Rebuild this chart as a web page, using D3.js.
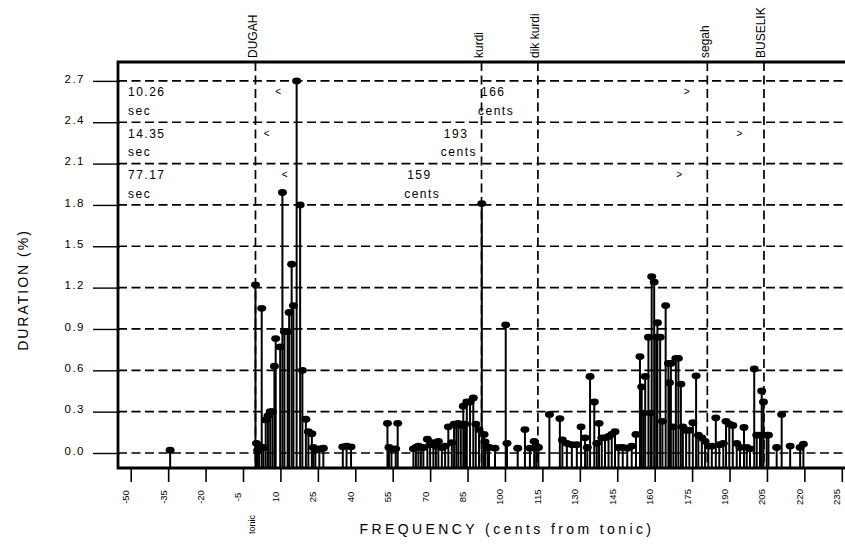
<!DOCTYPE html>
<html><head><meta charset="utf-8">
<script src="https://cdn.jsdelivr.net/npm/d3@7/dist/d3.min.js"></script>
<style>
html,body{margin:0;padding:0;background:#fff;}
svg{display:block;}
text{font-family:"Liberation Sans",Arial,sans-serif;fill:#000;}
</style></head>
<body>
<svg id="chart" width="845" height="545"></svg>
<script>
// ---- data ----
const cents = [-34.2,0.0,0.4,0.9,1.5,2.5,3.2,4.1,5.0,5.9,6.8,7.6,8.1,9.9,10.8,11.6,12.9,13.5,14.5,15.2,16.5,17.9,18.8,20.2,21.2,22.6,23.2,24.0,25.6,27.2,
  35.0,36.5,38.3,52.9,53.5,54.5,56.2,57.0,63.3,64.3,65.3,66.3,67.3,68.9,70.0,71.3,72.3,73.3,74.7,76.0,77.3,78.7,79.6,80.5,81.3,82.3,83.3,84.0,84.7,86.0,87.3,88.3,89.6,90.7,91.6,92.0,93.0,93.6,96.0,
  100.3,100.8,105.1,108.0,110.0,111.7,112.5,113.4,117.8,122.0,123.0,124.8,126.8,128.8,130.5,132.1,133.0,134.1,135.8,136.8,137.7,138.8,140.1,141.5,142.8,144.1,145.5,147.2,149.0,150.8,152.5,
  154.1,154.8,155.5,156.2,157.5,158.4,158.8,159.8,160.6,161.1,162.2,163.1,164.4,165.5,165.9,166.5,167.5,168.5,169.5,170.5,171.3,172.6,173.9,175.3,176.6,177.5,178.9,180.2,181.5,182.9,184.5,185.9,187.5,188.6,189.9,191.3,192.9,194.2,195.8,196.9,198.2,199.9,200.9,202.2,202.9,203.6,204.9,205.6,208.9,210.9,214.3,218.3,219.6];
const duration = [0.02,1.22,0.07,0.02,0.05,1.05,0.04,0.24,0.27,0.30,0.30,0.63,0.83,0.77,1.89,0.88,0.88,1.02,1.37,1.07,2.70,1.80,0.60,0.245,0.155,0.14,0.04,0.02,0.03,0.035,
  0.045,0.05,0.045,0.215,0.04,0.03,0.03,0.215,0.03,0.04,0.05,0.04,0.04,0.10,0.06,0.075,0.05,0.085,0.04,0.05,0.19,0.075,0.21,0.20,0.215,0.20,0.34,0.21,0.37,0.37,0.40,0.21,0.17,1.81,0.135,0.08,0.04,0.04,0.035,
  0.93,0.07,0.035,0.17,0.035,0.085,0.05,0.04,0.28,0.25,0.095,0.07,0.06,0.06,0.19,0.11,0.04,0.555,0.37,0.07,0.215,0.11,0.11,0.12,0.135,0.155,0.04,0.04,0.035,0.05,0.135,
  0.70,0.48,0.29,0.555,0.84,0.29,1.28,1.24,0.84,0.945,0.84,0.23,1.07,0.65,0.51,0.65,0.19,0.687,0.687,0.50,0.19,0.165,0.165,0.22,0.56,0.13,0.11,0.085,0.05,0.05,0.255,0.06,0.07,0.23,0.21,0.20,0.07,0.04,0.185,0.04,0.03,0.61,0.13,0.13,0.45,0.37,0.13,0.13,0.04,0.28,0.05,0.04,0.065];

const noteNames = ["DUGAH","kurdi","dik kurdi","segah","BUSELIK"];
const noteCents = [0, 90.6, 113.2, 181.1, 203.8];

const yTicks = [0.0,0.3,0.6,0.9,1.2,1.5,1.8,2.1,2.4,2.7];
const xTicks = [-50,-35,-20,-5,10,25,40,55,70,85,100,115,130,145,160,175,190,205,220,235];

// annotation rows (one per grid band below 2.7, 2.4, 2.1)
const annRowValue = [2.7, 2.4, 2.1];
const annSeconds = ["10.26","14.35","77.17"];
const annInterval = ["166","193","159"];
const annLeftCents = [9.1, 4.5, 11.7];
const annRightCents = [172.8, 194.0, 169.8];
const annLabelCents = [89.2, 74.3, 59.6];

const xLabel = "FREQUENCY (cents from tonic)";
const yLabel = "DURATION (%)";
const tonicLabel = "tonic";

// ---- layout ----
const L = 118, T = 62, B = 468, R = 854;
const svg = d3.select("#chart");
const x = d3.scaleLinear().domain([-55.1, 240]).range([L, L + 295.1*2.495]);
const y = d3.scaleLinear().domain([-0.1088, 2.837]).range([B, T]);

// horizontal dashed grid
svg.append("g").selectAll("line").data(yTicks).join("line")
  .attr("x1", L).attr("x2", R).attr("y1", d=>y(d)).attr("y2", d=>y(d))
  .attr("stroke","#000").attr("stroke-width",1.7).attr("stroke-dasharray","9,4.5");

// vertical dashed note lines
svg.append("g").selectAll("line").data(noteCents).join("line")
  .attr("x1", d=>x(d)).attr("x2", d=>x(d)).attr("y1", T).attr("y2", B)
  .attr("stroke","#000").attr("stroke-width",1.7).attr("stroke-dasharray","9,4.5");

// note labels
svg.append("g").selectAll("text").data(noteNames).join("text")
  .attr("transform",(d,i)=>`translate(${x(noteCents[i])+1.5},58) rotate(-90)`)
  .attr("text-anchor","start").style("font-size","12px").text(d=>d);

// stems
const pts = cents.map((c,i)=>({c, v: duration[i]}));
svg.append("g").selectAll("line").data(pts).join("line")
  .attr("x1", d=>x(d.c)).attr("x2", d=>x(d.c)).attr("y1", d=>y(d.v)).attr("y2", B)
  .attr("stroke","#000").attr("stroke-width",2);
svg.append("g").selectAll("ellipse").data(pts).join("ellipse")
  .attr("cx", d=>x(d.c)).attr("cy", d=>y(d.v)).attr("rx",4.5).attr("ry",3.4).attr("fill","#000");

// annotations
const ann = svg.append("g").style("font-size","12px").style("letter-spacing","1.5px");
annRowValue.forEach((rv,i)=>{
  const gy = y(rv);
  ann.append("text").attr("x",128).attr("y",gy+15.5).text(annSeconds[i]);
  ann.append("text").attr("x",128).attr("y",gy+34).text("sec");
  ann.append("text").attr("x",x(annLeftCents[i])).attr("y",gy+14.5).attr("text-anchor","middle").style("letter-spacing","0px").style("font-size","10px").text("<");
  ann.append("text").attr("x",x(annRightCents[i])).attr("y",gy+14.5).attr("text-anchor","middle").style("letter-spacing","0px").style("font-size","10px").text(">");
  ann.append("text").attr("x",x(annLabelCents[i])+3).attr("y",gy+15.5).text(annInterval[i]);
  ann.append("text").attr("x",x(annLabelCents[i])).attr("y",gy+34).text("cents");
});

// y axis
const yAxis = d3.axisLeft(y).tickValues(yTicks).tickFormat(d3.format(".1f")).tickSize(27).tickPadding(8);
const gy = svg.append("g").attr("transform",`translate(${L+2},0)`).call(yAxis);
gy.select(".domain").remove();
gy.selectAll(".tick line").attr("stroke","#000").attr("stroke-width",1.4);
gy.selectAll(".tick text").attr("dy","0.1em").style("font-size","11.5px").style("letter-spacing","1.5px")
  .style("font-family","'Liberation Sans',Arial,sans-serif");

// x axis
const xAxis = d3.axisBottom(x).tickValues(xTicks).tickFormat(d=>String(d)).tickSize(14);
const gx = svg.append("g").attr("transform",`translate(0,${B})`).call(xAxis);
gx.select(".domain").remove();
gx.selectAll(".tick line").attr("stroke","#000").attr("stroke-width",1.6);
gx.selectAll(".tick text").attr("transform","translate(-2,29) rotate(-90)").attr("x",0).attr("y",0).attr("dy",0)
  .attr("text-anchor","middle").style("font-size","9.5px").style("font-family","'Liberation Sans',Arial,sans-serif");

// tonic label
svg.append("text").attr("transform",`translate(${x(0)},534) rotate(-90)`).attr("text-anchor","start")
  .style("font-size","9px").text(tonicLabel);

// frame
svg.append("path").attr("d",`M${R},${T}H${L}V${B}H${R}`).attr("fill","none").attr("stroke","#000").attr("stroke-width",2.8);

// axis titles
svg.append("text").attr("x",507).attr("y",534).attr("text-anchor","middle")
  .style("font-size","14px").style("letter-spacing","3.4px").text(xLabel);
svg.append("text").attr("transform","translate(28,290) rotate(-90)").attr("text-anchor","middle")
  .style("font-size","14px").style("letter-spacing","2px").text(yLabel);
</script>
</body></html>
